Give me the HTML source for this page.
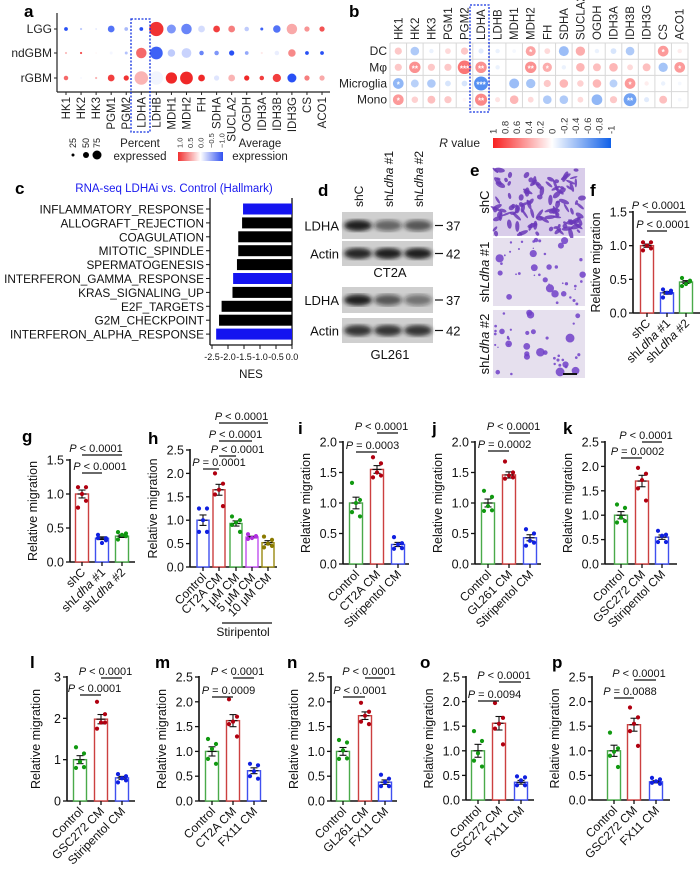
<!DOCTYPE html>
<html><head><meta charset="utf-8"><style>
html,body{margin:0;padding:0;background:#fff;}
svg{display:block;font-family:"Liberation Sans",Arial,sans-serif;}
</style></head><body>
<svg id="fig" width="700" height="876" viewBox="0 0 700 876" xmlns="http://www.w3.org/2000/svg">
<defs>
<linearGradient id="gradA" x1="0" x2="1" y1="0" y2="0"><stop offset="0" stop-color="#f03030"/><stop offset="0.5" stop-color="#ffffff"/><stop offset="1" stop-color="#3050f0"/></linearGradient>
<linearGradient id="gradB" x1="0" x2="1" y1="0" y2="0"><stop offset="0" stop-color="#f82020"/><stop offset="0.5" stop-color="#ffffff"/><stop offset="1" stop-color="#1060e8"/></linearGradient>
<filter id="blur1"><feGaussianBlur stdDeviation="2.2"/></filter>
</defs>
<g id="root"></g>
</svg>
<script>
// ---------- Panel a data ----------
const aGenes = ["HK1","HK2","HK3","PGM1","PGM2","LDHA","LDHB","MDH1","MDH2","FH","SDHA","SUCLA2","OGDH","IDH3A","IDH3B","IDH3G","CS","ACO1"];
const aRows = ["LGG","ndGBM","rGBM"];
const aPctLGG = [25,15,12,45,25,25,95,60,70,45,45,45,30,20,50,70,35,35];
const aExpLGG = [-1,-0.3,-0.15,-0.8,-0.4,-1,0.95,-0.6,-0.7,-0.2,0.9,0.6,-0.3,-0.9,-0.8,0.4,0.5,0.8];
const aPctND = [15,15,10,20,20,70,85,50,65,30,30,35,25,15,30,50,25,25];
const aExpND = [0.3,0.8,0.05,-0.05,-0.35,0.7,-0.9,-0.3,-0.25,-0.7,-0.6,-1,-0.5,0.1,-0.1,0.55,-1,-1];
const aPctR = [30,12,15,45,35,90,90,75,85,45,35,45,35,30,55,60,35,35];
const aExpR = [0.7,-0.05,0.35,0.9,0.95,0.35,-0.06,1,1,1,-0.15,0.35,1,0.9,0.9,-1,0.6,0.4];

// ---------- Panel b data ----------
const bGenes = ["HK1","HK2","HK3","PGM1","PGM2","LDHA","LDHB","MDH1","MDH2","FH","SDHA","SUCLA2","OGDH","IDH3A","IDH3B","IDH3G","CS","ACO1"];
const bRows = ["DC","M\u03c6","Microglia","Mono"];
const bR_DC = [0.3,-0.4,-0.1,0.2,0.3,-0.15,-0.1,-0.05,0.5,0.2,-0.5,0.45,-0.1,-0.2,-0.4,0,0.55,0.1];
const bR_Mp = [0.3,0.6,0.3,0.3,0.75,0.6,-0.1,0,0.6,0.45,-0.1,0.4,0.35,0.4,0.2,0.35,-0.45,0.55];
const bR_Mg = [-0.55,-0.35,-0.4,-0.2,-0.2,-0.85,0,-0.5,-0.45,0.3,0.4,0.25,0.4,-0.35,0.55,0.1,-0.1,-0.05];
const bR_Mo = [0.55,0.25,0.35,0.3,0.05,0.65,0.15,0.4,0.2,-0.4,-0.4,0.2,-0.55,0.3,-0.7,-0.15,0.35,-0.05];
const bStar_DC = ["","","","","","","","","*","","","","","","","","*",""];
const bStar_Mp = ["","**","","","***","**","","","**","*","","","","","","","","*"];
const bStar_Mg = ["*","","","","","***","","","","","","","","","*","","",""];
const bStar_Mo = ["*","","","","","**","","","","","","","","","**","","",""];
const bTicks = ["1","0.8","0.6","0.4","0.2","0","-0.2","-0.4","-0.6","-0.8","-1"];

// ---------- Panel c data ----------
const cTerms = ["INFLAMMATORY_RESPONSE","ALLOGRAFT_REJECTION","COAGULATION","MITOTIC_SPINDLE","SPERMATOGENESIS","INTERFERON_GAMMA_RESPONSE","KRAS_SIGNALING_UP","E2F_TARGETS","G2M_CHECKPOINT","INTERFERON_ALPHA_RESPONSE"];
const cNES = [-1.53,-1.56,-1.68,-1.68,-1.72,-1.84,-1.86,-2.2,-2.28,-2.37];
const cHighlight = [true,false,false,false,false,true,false,false,false,true];
const cTicks = [-2.5,-2.0,-1.5,-1.0,-0.5,0.0];

// ---------- Bar panels data ----------
const fCats=["shC","shLdha #1","shLdha #2"]; const fMeans=[1.0,0.3,0.46];
const fPts=[[1.05,1.05,1.0,0.93,0.96],[0.35,0.3,0.3,0.23,0.33],[0.52,0.47,0.43,0.4,0.48]];
const fTicks=[0,0.5,1.0,1.5];
const gCats=["shC","shLdha #1","shLdha #2"]; const gMeans=[1.0,0.35,0.38];
const gPts=[[1.1,1.1,1.0,0.8,0.9],[0.4,0.35,0.28,0.35,0.32],[0.44,0.42,0.4,0.33,0.38]];
const gTicks=[0,0.5,1.0,1.5];
const hCats=["Control","CT2A CM","1 \u03bcM CM","5 \u03bcM CM","10 \u03bcM CM"]; const hMeans=[1.0,1.65,0.93,0.64,0.52];
const hPts=[[1.25,1.25,1.0,0.75,0.75],[2.0,1.78,1.65,1.55,1.3],[1.08,1.0,0.95,0.9,0.75],[0.7,0.66,0.62,0.6,0.65],[0.65,0.58,0.5,0.42,0.45]];
const hTicks=[0,0.5,1.0,1.5,2.0,2.5];
const iCats=["Control","CT2A CM","Stiripentol CM"]; const iMeans=[1.0,1.55,0.32];
const iPts=[[1.33,1.05,1.0,0.85,0.78],[1.75,1.65,1.5,1.42,1.45],[0.44,0.34,0.32,0.25,0.26]];
const iTicks=[0,0.5,1.0,1.5,2.0];
const jCats=["Control","GL261 CM","Stiripentol CM"]; const jMeans=[1.0,1.46,0.43];
const jPts=[[1.2,1.1,0.95,0.87,0.88],[1.68,1.5,1.45,1.4,1.42],[0.57,0.5,0.38,0.3,0.35]];
const jTicks=[0,0.5,1.0,1.5,2.0];
const kCats=["Control","GSC272 CM","Stiripentol CM"]; const kMeans=[1.0,1.7,0.55];
const kPts=[[1.22,1.15,0.95,0.85,0.88],[1.97,1.85,1.72,1.55,1.3],[0.68,0.6,0.58,0.45,0.45]];
const kTicks=[0,0.5,1.0,1.5,2.0,2.5];
const lCats=["Control","GSC272 CM","Stiripentol CM"]; const lMeans=[1.0,1.98,0.56];
const lPts=[[1.3,1.15,0.95,0.8,0.82],[2.4,2.1,1.9,1.75,1.9],[0.65,0.6,0.55,0.45,0.5]];
const lTicks=[0,1,2,3];
const mCats=["Control","CT2A CM","FX11 CM"]; const mMeans=[1.0,1.62,0.61];
const mPts=[[1.25,1.15,1.05,0.85,0.75],[2.05,1.7,1.6,1.55,1.3],[0.75,0.72,0.6,0.5,0.45]];
const mTicks=[0,0.5,1.0,1.5,2.0,2.5];
const nCats=["Control","GL261 CM","FX11 CM"]; const nMeans=[1.0,1.72,0.38];
const nPts=[[1.23,1.18,1.02,0.85,0.86],[1.98,1.8,1.72,1.6,1.55],[0.53,0.45,0.38,0.3,0.3]];
const nTicks=[0,0.5,1.0,1.5,2.0,2.5];
const oCats=["Control","GSC272 CM","FX11 CM"]; const oMeans=[1.0,1.56,0.36];
const oPts=[[1.4,1.2,0.95,0.8,0.68],[1.97,1.67,1.55,1.45,1.13],[0.48,0.46,0.4,0.3,0.3]];
const oTicks=[0,0.5,1.0,1.5,2.0,2.5];
const pCats=["Control","GSC272 CM","FX11 CM"]; const pMeans=[1.0,1.53,0.37];
const pPts=[[1.37,1.05,0.98,0.9,0.67],[1.88,1.68,1.55,1.4,1.1],[0.45,0.42,0.38,0.35,0.33]];
const pTicks=[0,0.5,1.0,1.5,2.0,2.5];

// ---------- helpers ----------
const NS="http://www.w3.org/2000/svg";
const root=document.getElementById('root');
function mk(tag,attrs,parent){const e=document.createElementNS(NS,tag);for(const k in attrs)e.setAttribute(k,attrs[k]);(parent||root).appendChild(e);return e;}
function txt(s,attrs,parent){const e=mk('text',attrs,parent);e.textContent=s;return e;}
function grp(name){const g=mk('g',{});


return g;}
function lerp(a,b,t){return Math.round(a+(b-a)*t);}
function divColor(v,pos,neg){const t=Math.min(1,Math.abs(v));const c=v>=0?pos:neg;return `rgb(${lerp(255,c[0],t)},${lerp(255,c[1],t)},${lerp(255,c[2],t)})`;}
function letter(ch,x,y,name){const t=txt(ch,{x:x,y:y,'font-size':17,'font-weight':'bold',fill:'#000'});

}
function withItalicLdha(t,s){
  const m=s.match(/^(.*?)(Ldha)(.*)$/);
  if(!m){t.textContent=s;return;}
  const a=document.createElementNS(NS,'tspan');a.textContent=m[1];t.appendChild(a);
  const b=document.createElementNS(NS,'tspan');b.setAttribute('font-style','italic');b.textContent=m[2];t.appendChild(b);
  const c=document.createElementNS(NS,'tspan');c.textContent=m[3];t.appendChild(c);
}

// ---------- Panel a ----------
(function(){
  const g=grp('panel-a-dotplot');
  letter('a',24,17,'panel-a-label');
  const x0=66,dx=15.06,rowY=[29,53,78];
  const rx=v=>x0+v*dx;
  mk('line',{x1:57,y1:13,x2:57,y2:92,stroke:'#222','stroke-width':1.2},g);
  mk('line',{x1:57,y1:92,x2:330,y2:92,stroke:'#222','stroke-width':1.2},g);
  const pcts=[aPctLGG,aPctND,aPctR], exps=[aExpLGG,aExpND,aExpR];
  aRows.forEach((r,ri)=>{
    const t=txt(r,{x:52,y:rowY[ri]+4,'text-anchor':'end','font-size':12,fill:'#222'},g);
    
    
    mk('line',{x1:54,y1:rowY[ri],x2:57,y2:rowY[ri],stroke:'#222'},g);
    aGenes.forEach((gn,gi)=>{
      const p=pcts[ri][gi];
      const c=mk('circle',{cx:rx(gi),cy:rowY[ri],r:Math.max(0.8,p/100*7.5),fill:divColor(exps[ri][gi],[240,40,40],[40,80,245])},g);
      
      
    });
  });
  aGenes.forEach((gn,gi)=>{
    mk('line',{x1:rx(gi),y1:92,x2:rx(gi),y2:95,stroke:'#222'},g);
    const t=txt(gn,{x:0,y:0,'text-anchor':'end','font-size':11.5,fill:'#222',transform:`translate(${rx(gi)+4},97) rotate(-90)`},g);
    
    
  });
  const box=mk('rect',{x:131,y:19,width:19,height:113,fill:'none',stroke:'#1030e0','stroke-width':1.3,'stroke-dasharray':'2,1.5'},g);
  
  
  const sizes=[25,50,75],sx=[73,86,97];
  sizes.forEach((s,i)=>{
    const c=mk('circle',{cx:sx[i],cy:155,r:s/100*7.5*0.8,fill:'#000'},g);
    
    
    txt(String(s),{x:0,y:0,'font-size':9,fill:'#222',transform:`translate(${sx[i]+3},148) rotate(-90)`},g);
  });
  const pl=txt('Percent',{x:140,y:147,'text-anchor':'middle','font-size':11.5,fill:'#222'},g);
  
  
  txt('expressed',{x:140,y:160,'text-anchor':'middle','font-size':11.5,fill:'#222'},g);
  const gr=mk('rect',{x:178,y:152,width:45,height:9,fill:'url(#gradA)'},g);
  
  
  ["1.0","0.5","0.0","\u22120.5","\u22121.0"].forEach((s,i)=>{
    txt(s,{x:0,y:0,'font-size':7.5,fill:'#333',transform:`translate(${180+i*10.5+2.5},148) rotate(-90)`},g);
  });
  const al=txt('Average',{x:260,y:147,'text-anchor':'middle','font-size':11.5,fill:'#222'},g);
  
  
  txt('expression',{x:260,y:160,'text-anchor':'middle','font-size':11.5,fill:'#222'},g);
})();

// ---------- Panel b ----------
(function(){
  const g=grp('panel-b-correlation');
  letter('b',349,17,'panel-b-label');
  const left=390,right=688,top=43,rowH=16.2,cw=(right-left)/18;
  const rows=[bR_DC,bR_Mp,bR_Mg,bR_Mo], stars=[bStar_DC,bStar_Mp,bStar_Mg,bStar_Mo];
  for(let i=0;i<=18;i++) mk('line',{x1:left+i*cw,y1:top,x2:left+i*cw,y2:top+4*rowH,stroke:'#d8d8d8','stroke-width':1},g);
  for(let j=0;j<=4;j++) mk('line',{x1:left,y1:top+j*rowH,x2:right,y2:top+j*rowH,stroke:'#d8d8d8','stroke-width':1},g);
  bRows.forEach((r,ri)=>{
    const cy=top+ri*rowH+rowH/2;
    const t=txt(r,{x:387,y:cy+4,'text-anchor':'end','font-size':12,fill:'#222'},g);
    
    
    bGenes.forEach((gn,gi)=>{
      const v=rows[ri][gi];const cx=left+gi*cw+cw/2;
      const c=mk('circle',{cx:cx,cy:cy,r:Math.min(7,1.5+7*Math.abs(v)),fill:divColor(v*0.85,[248,40,40],[20,100,235])},g);
      
      
      if(stars[ri][gi]) txt(stars[ri][gi],{x:cx,y:cy+4,'text-anchor':'middle','font-size':8,fill:'#fff','font-weight':'bold'},g);
    });
  });
  bGenes.forEach((gn,gi)=>{
    const t=txt(gn,{x:0,y:0,'font-size':11.5,fill:'#222',transform:`translate(${left+gi*cw+cw/2+4},40) rotate(-90)`},g);
    
    
  });
  const box=mk('rect',{x:470,y:5,width:19,height:107,fill:'none',stroke:'#1030e0','stroke-width':1.3,'stroke-dasharray':'2,1.5'},g);
  
  
  const cb=mk('rect',{x:493,y:138,width:118,height:10,fill:'url(#gradB)'},g);
  
  
  bTicks.forEach((s,i)=>{
    txt(s,{x:0,y:0,'font-size':9.5,fill:'#333',transform:`translate(${493+i*11.8+3.5},134) rotate(-90)`},g);
  });
  const rl=txt('',{x:480,y:147,'text-anchor':'end','font-size':12,fill:'#222'},g);
  
  
  const ri=document.createElementNS(NS,'tspan');ri.setAttribute('font-style','italic');ri.textContent='R';rl.appendChild(ri);
  const rv=document.createElementNS(NS,'tspan');rv.textContent=' value';rl.appendChild(rv);
})();

// ---------- Panel c ----------
(function(){
  const g=grp('panel-c-gsea-bars');
  letter('c',15,194,'panel-c-label');
  const ttl=txt('RNA-seq LDHAi vs. Control (Hallmark)',{x:174,y:192,'text-anchor':'middle','font-size':11.5,fill:'#1a1aee'},g);
  
  
  const zeroX=292, ppu=32, y0=209, dy=13.9;
  const sx=v=>zeroX+v*ppu;
  mk('line',{x1:210,y1:198,x2:210,y2:345,stroke:'#111','stroke-width':1.3},g);
  mk('line',{x1:zeroX,y1:198,x2:zeroX,y2:345,stroke:'#111','stroke-width':1.3},g);
  mk('line',{x1:210,y1:345,x2:zeroX,y2:345,stroke:'#111','stroke-width':1.3},g);
  cTerms.forEach((t,i)=>{
    const y=y0+i*dy;
    const b=mk('rect',{x:sx(cNES[i]),y:y-5.5,width:zeroX-sx(cNES[i]),height:11,fill:cHighlight[i]?'#1414f0':'#000'},g);
    
    
    mk('line',{x1:206,y1:y,x2:210,y2:y,stroke:'#111'},g);
    const l=txt(t,{x:204,y:y+4.5,'text-anchor':'end','font-size':11.8,fill:'#111'},g);
    
    
  });
  cTicks.forEach(v=>{
    mk('line',{x1:sx(v),y1:345,x2:sx(v),y2:349,stroke:'#111'},g);
    txt(v.toFixed(1),{x:sx(v),y:360,'text-anchor':'middle','font-size':9,fill:'#111'},g);
  });
  const n=txt('NES',{x:251,y:378,'text-anchor':'middle','font-size':11.5,fill:'#111'},g);
  
  
})();

// ---------- Panel d (western blots) ----------
(function(){
  const g=grp('panel-d-western-blot');
  letter('d',318,196,'panel-d-label');
  const lanes=[358,388,418];
  ["shC","shLdha #1","shLdha #2"].forEach((s,i)=>{
    const t=txt('',{x:0,y:0,'font-size':12,fill:'#111',transform:`translate(${lanes[i]+5},207) rotate(-90)`},g);
    withItalicLdha(t,s);
    
    
  });
  const blots=[[212,27,'LDHA','37',[1,0.45,0.55]],[241,25,'Actin','42',[0.95,1,1]],[287,26,'LDHA','37',[1,0.55,0.35]],[318,25,'Actin','42',[0.85,0.85,0.85]]];
  blots.forEach((b,bi)=>{
    const r=mk('rect',{x:342,y:b[0],width:91,height:b[1],fill:'#cfcfcf'},g);
    
    
    lanes.forEach((lx,li)=>{
      const k=b[4][li];
      mk('ellipse',{cx:lx,cy:b[0]+b[1]/2,rx:14,ry:5.5,fill:`rgba(20,20,20,${0.25+0.7*k})`,filter:'url(#blur1)'},g);
    });
    const lbl=txt(b[2],{x:339,y:b[0]+b[1]/2+5,'text-anchor':'end','font-size':13,fill:'#111'},g);
    
    
    mk('line',{x1:435,y1:b[0]+b[1]/2,x2:443,y2:b[0]+b[1]/2,stroke:'#111','stroke-width':1.2},g);
    txt(b[3],{x:446,y:b[0]+b[1]/2+5,'font-size':13,fill:'#111'},g);
  });
  const a=txt('CT2A',{x:390,y:277,'text-anchor':'middle','font-size':13,fill:'#111'},g);
  
  
  const b2=txt('GL261',{x:390,y:359,'text-anchor':'middle','font-size':13,fill:'#111'},g);
  
  
})();

// ---------- Panel e (migration images) ----------
(function(){
  const g=grp('panel-e-migration-images');
  letter('e',470,176,'panel-e-label');
  let seed=7;const rnd=()=>{seed=(seed*16807)%2147483647;return seed/2147483647;};
  const imgs=[[168,236,'shC',110,true],[238,306,'shLdha #1',40,false],[310,378,'shLdha #2',40,false]];
  imgs.forEach((im,ii)=>{
    const r=mk('rect',{x:493,y:im[0],width:92,height:im[1]-im[0],fill:im[4]?'#d9cdea':'#e6e0ee'},g);
    
    
    for(let k=0;k<im[3];k++){
      const cx=495+rnd()*88, cy=im[0]+2+rnd()*(im[1]-im[0]-4);
      if(im[4]){
        mk('ellipse',{cx:cx,cy:cy,rx:2+rnd()*4,ry:1+rnd()*1.6,fill:'#6a38b8',transform:`rotate(${rnd()*180},${cx},${cy})`,opacity:0.85},g);
      } else {
        const rr=rnd()<0.4?2+rnd()*2.5:0.7+rnd();
        mk('circle',{cx:cx,cy:cy,r:rr,fill:'#7040c8',opacity:0.85},g);
      }
    }
    const t=txt('',{x:0,y:0,'text-anchor':'middle','font-size':13,fill:'#111',transform:`translate(489,${(im[0]+im[1])/2}) rotate(-90)`},g);
    withItalicLdha(t,im[2]);
    
    
  });
  const sb=mk('line',{x1:563,y1:374,x2:577,y2:374,stroke:'#111','stroke-width':2},g);
  
  
})();

// ---------- Bar chart builder ----------
const GREEN={bar:'#4aaa4a',pt:'#119911'},RED={bar:'#cc4040',pt:'#b00010'},BLUE={bar:'#4050f0',pt:'#1020e0'},PURP={bar:'#c050f0',pt:'#b030e0'},OLIVE={bar:'#9a8a10',pt:'#8a7a00'};
function barPanel(c){
  const g=grp(c.name);
  letter(c.letter,c.lx,c.ly,'panel-'+c.letter+'-label');
  const yMax=c.ticks[c.ticks.length-1];
  const sy=v=>c.y0-(v/yMax)*(c.y0-c.yTop);
  const bx=i=>c.ax+c.off[i];
  const bw=c.bw||13;
  mk('line',{x1:c.ax,y1:c.yTop-1,x2:c.ax,y2:c.y0,stroke:'#111','stroke-width':1.6},g);
  mk('line',{x1:c.ax,y1:c.y0,x2:c.ax+c.xEnd,y2:c.y0,stroke:'#111','stroke-width':1.6},g);
  c.ticks.forEach(v=>{
    mk('line',{x1:c.ax-4,y1:sy(v),x2:c.ax,y2:sy(v),stroke:'#111','stroke-width':1.3},g);
    const t=txt(c.intTicks?String(v):v.toFixed(1),{x:c.ax-6,y:sy(v)+4.5,'text-anchor':'end','font-size':12.5,fill:'#111'},g);
    
    
  });
  const yl=txt('Relative migration',{x:0,y:0,'text-anchor':'middle','font-size':12.5,fill:'#111',transform:`translate(${c.ax-(c.intTicks?27:33)},${(c.y0+c.yTop)/2}) rotate(-90)`},g);
  
  
  const jit=[-4,4,0,-4,4];
  c.cats.forEach((cat,i)=>{
    const x=bx(i),col=c.colors[i],m=c.means[i];
    const b=mk('rect',{x:x-bw/2,y:sy(m),width:bw,height:c.y0-sy(m),fill:'#fff',stroke:col.bar,'stroke-width':1.4},g);
    
    
    const p=c.pts[i];const mean=p.reduce((a,b)=>a+b,0)/p.length;
    const sd=Math.sqrt(p.reduce((a,b)=>a+(b-mean)*(b-mean),0)/(p.length-1));const se=sd/Math.sqrt(p.length);
    mk('line',{x1:x,y1:sy(m+se),x2:x,y2:sy(m-se),stroke:'#111','stroke-width':1.1},g);
    mk('line',{x1:x-3.5,y1:sy(m+se),x2:x+3.5,y2:sy(m+se),stroke:'#111','stroke-width':1.1},g);
    mk('line',{x1:x-3.5,y1:sy(m-se),x2:x+3.5,y2:sy(m-se),stroke:'#111','stroke-width':1.1},g);
    mk('line',{x1:x-4.5,y1:sy(m),x2:x+4.5,y2:sy(m),stroke:'#111','stroke-width':1.1},g);
    p.forEach((v,k)=>{
      const d=mk('circle',{cx:x+jit[k],cy:sy(v),r:2.1,fill:col.pt},g);
      
      
    });
    mk('line',{x1:x,y1:c.y0,x2:x,y2:c.y0+4,stroke:'#111','stroke-width':1.3},g);
    const t=txt('',{x:0,y:0,'text-anchor':'end','font-size':12,fill:'#111',transform:`translate(${x+4},${c.y0+11}) rotate(-45)`},g);
    withItalicLdha(t,cat);
    
    
  });
  c.brackets.forEach(br=>{
    const x1=bx(br[0]),x2=bx(br[1]);
    const l=mk('line',{x1:x1,y1:br[2],x2:x2,y2:br[2],stroke:'#111','stroke-width':1.2},g);
    
    
    const t=txt('',{x:(x1+x2)/2+(br[4]||0),y:br[2]-3,'text-anchor':'middle','font-size':11,fill:'#111'},g);
    
    
    const a=document.createElementNS(NS,'tspan');a.setAttribute('font-style','italic');a.textContent='P';t.appendChild(a);
    const b=document.createElementNS(NS,'tspan');b.textContent=' '+br[3];t.appendChild(b);
  });
  return g;
}
const O3=[13,34,55];
barPanel({name:'panel-f-bar-chart',letter:'f',lx:590,ly:196,ax:633,y0:313,yTop:212,ticks:fTicks,cats:fCats,means:fMeans,pts:fPts,colors:[RED,BLUE,GREEN],off:[14,34,53],xEnd:67,bw:13,
  brackets:[[0,1,231,'< 0.0001',6],[0,2,212,'< 0.0001',-8]]});
barPanel({name:'panel-g-bar-chart',letter:'g',lx:22,ly:442,ax:70,y0:562,yTop:460,ticks:gTicks,cats:gCats,means:gMeans,pts:gPts,colors:[RED,BLUE,GREEN],off:[12,32,52],xEnd:65,bw:13,
  brackets:[[0,1,473,'< 0.0001',8],[0,2,455,'< 0.0001',-6]]});
barPanel({name:'panel-h-bar-chart',letter:'h',lx:148,ly:444,ax:190,y0:567,yTop:450,ticks:hTicks,cats:hCats,means:hMeans,pts:hPts,colors:[BLUE,RED,GREEN,PURP,OLIVE],off:[13,29,46,62,78],xEnd:87,bw:12,
  brackets:[[0,1,469,'= 0.0001',8],[1,2,456,'< 0.0001',10],[1,3,441,'< 0.0001',0],[1,4,423,'< 0.0001',-2]]});
barPanel({name:'panel-i-bar-chart',letter:'i',lx:298,ly:434,ax:343,y0:564,yTop:442,ticks:iTicks,cats:iCats,means:iMeans,pts:iPts,colors:[GREEN,RED,BLUE],off:O3,xEnd:66,
  brackets:[[0,1,452,'= 0.0003',6],[1,2,433,'< 0.0001',-6]]});
barPanel({name:'panel-j-bar-chart',letter:'j',lx:432,ly:434,ax:475,y0:564,yTop:442,ticks:jTicks,cats:jCats,means:jMeans,pts:jPts,colors:[GREEN,RED,BLUE],off:O3,xEnd:66,
  brackets:[[0,1,451,'= 0.0002',6],[1,2,433,'< 0.0001',-6]]});
barPanel({name:'panel-k-bar-chart',letter:'k',lx:563,ly:434,ax:605,y0:564,yTop:442,ticks:kTicks,cats:kCats,means:kMeans,pts:kPts,colors:[GREEN,RED,BLUE],off:[16,37,57],xEnd:72,
  brackets:[[0,1,458,'= 0.0002',6],[1,2,442,'< 0.0001',-6]]});
(function(){const g=grp('h-stiripentol-group');
const l=mk('line',{x1:222,y1:623,x2:272,y2:623,stroke:'#111','stroke-width':1.2},g);


const t=txt('Stiripentol',{x:243,y:636,'text-anchor':'middle','font-size':12,fill:'#111'},g);

})();
barPanel({name:'panel-l-bar-chart',letter:'l',lx:30,ly:668,ax:67,y0:801,yTop:677,ticks:lTicks,intTicks:true,cats:lCats,means:lMeans,pts:lPts,colors:[GREEN,RED,BLUE],off:O3,xEnd:68,
  brackets:[[0,1,695,'< 0.0001',4],[1,2,678,'< 0.0001',-6]]});
barPanel({name:'panel-m-bar-chart',letter:'m',lx:155,ly:668,ax:199,y0:801,yTop:677,ticks:mTicks,cats:mCats,means:mMeans,pts:mPts,colors:[GREEN,RED,BLUE],off:O3,xEnd:68,
  brackets:[[0,1,697,'= 0.0009',6],[1,2,678,'< 0.0001',-6]]});
barPanel({name:'panel-n-bar-chart',letter:'n',lx:287,ly:668,ax:331,y0:801,yTop:677,ticks:nTicks,cats:nCats,means:nMeans,pts:nPts,colors:[GREEN,RED,BLUE],off:[12,34,54],xEnd:66,
  brackets:[[0,1,697,'< 0.0001',6],[1,2,678,'< 0.0001',-6]]});
barPanel({name:'panel-o-bar-chart',letter:'o',lx:420,ly:668,ax:466,y0:800,yTop:677,ticks:oTicks,cats:oCats,means:oMeans,pts:oPts,colors:[GREEN,RED,BLUE],off:[12,33,55],xEnd:68,
  brackets:[[0,1,701,'= 0.0094',6],[1,2,682,'< 0.0001',-6]]});
barPanel({name:'panel-p-bar-chart',letter:'p',lx:552,ly:668,ax:592,y0:800,yTop:677,ticks:pTicks,cats:pCats,means:pMeans,pts:pPts,colors:[GREEN,RED,BLUE],off:[22,42,64],xEnd:78,
  brackets:[[0,1,698,'= 0.0088',6],[1,2,680,'< 0.0001',-6]]});
</script>
</body></html>
